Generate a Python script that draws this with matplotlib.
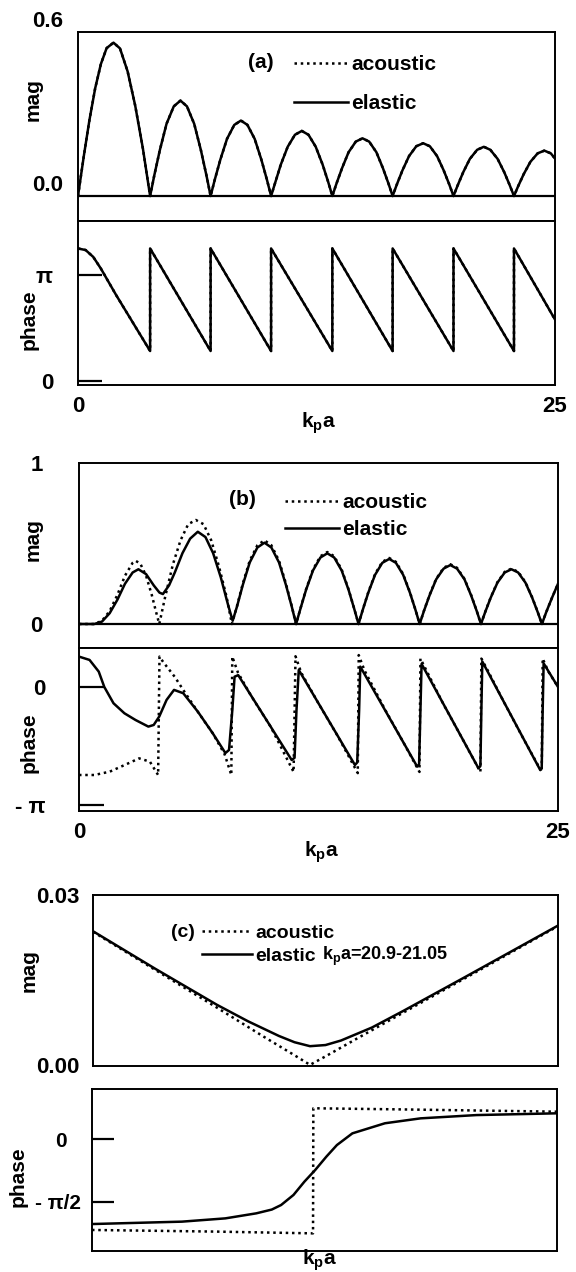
import numpy as np
import matplotlib
matplotlib.use('Agg')
import matplotlib.pyplot as plt
import matplotlib.transforms as mtransforms

plt.rcParams['font.family'] = ['Liberation Sans', 'DejaVu Sans']
plt.rcParams['font.weight'] = 'bold'
plt.rcParams['axes.labelweight'] = 'bold'
plt.rcParams['font.size'] = 15
plt.rcParams['mathtext.fontset'] = 'custom'
plt.rcParams['mathtext.rm'] = 'Liberation Sans:bold'
plt.rcParams['mathtext.bf'] = 'Liberation Sans:bold'
plt.rcParams['mathtext.it'] = 'Liberation Sans:bold'

# ---- panel (a): acoustic and elastic coincide ----
ka_a_mag = [0, 0.3, 0.6, 0.9, 1.2, 1.5, 1.86, 2.2, 2.6, 3.0, 3.4,
            3.78, 4.00, 4.29, 4.64, 5.02, 5.37, 5.71, 6.09, 6.44, 6.73,
            6.95, 7.17, 7.46, 7.81, 8.19, 8.54, 8.88, 9.26, 9.61, 9.90,
            10.12, 10.35, 10.63, 10.99, 11.37, 11.73, 12.08, 12.46, 12.82, 13.11,
            13.33, 13.55, 13.84, 14.18, 14.56, 14.91, 15.26, 15.64, 15.98, 16.27,
            16.49, 16.71, 17.00, 17.35, 17.73, 18.09, 18.44, 18.82, 19.17, 19.46,
            19.68, 19.90, 20.19, 20.54, 20.92, 21.27, 21.61, 21.99, 22.34, 22.63,
            22.85, 23.07, 23.36, 23.71, 24.09, 24.44, 24.78, 25.0]
mag_a_el = [0, 0.144, 0.278, 0.394, 0.483, 0.541, 0.561, 0.54, 0.456, 0.33, 0.174,
            0, 0.076, 0.168, 0.264, 0.328, 0.349, 0.328, 0.264, 0.168, 0.076,
            0, 0.060, 0.133, 0.209, 0.260, 0.276, 0.260, 0.209, 0.133, 0.060,
            0, 0.052, 0.115, 0.180, 0.224, 0.238, 0.224, 0.180, 0.115, 0.052,
            0, 0.046, 0.102, 0.160, 0.199, 0.211, 0.199, 0.160, 0.102, 0.046,
            0, 0.042, 0.093, 0.146, 0.182, 0.193, 0.182, 0.146, 0.093, 0.042,
            0, 0.039, 0.087, 0.136, 0.169, 0.180, 0.169, 0.136, 0.087, 0.039,
            0, 0.036, 0.080, 0.125, 0.156, 0.166, 0.156, 0.137]
mag_a_ac = mag_a_el

# phase in units of pi
ka_a_ph = [0, 0.4, 0.8, 1.2, 1.6, 2.0, 3.78, 3.78, 6.95, 6.95, 10.12, 10.12,
           13.33, 13.33, 16.49, 16.49, 19.68, 19.68, 22.85, 22.85, 25.0]
ph_a_el = [1.25, 1.235, 1.17, 1.06, 0.935, 0.81, 0.283, 1.25, 0.283, 1.25, 0.283, 1.25,
           0.283, 1.25, 0.283, 1.25, 0.283, 1.25, 0.283, 1.25, 0.58]
ph_a_ac = ph_a_el

# ---- panel (b) ----
ka_b_head_el = [0, 0.8, 1.2, 1.6, 2.0, 2.4, 2.8, 3.1, 3.5, 3.9, 4.2, 4.38,
                4.7, 5.0, 5.4, 5.8, 6.2, 6.6, 7.0, 7.4, 7.8, 8.02]
mag_b_head_el = [0, 0.0, 0.015, 0.067, 0.15, 0.25, 0.32, 0.34, 0.31, 0.24, 0.195, 0.186,
                 0.24, 0.32, 0.44, 0.53, 0.573, 0.54, 0.44, 0.29, 0.11, 0.02]
ka_b_head_ac = [0, 0.8, 1.2, 1.6, 2.0, 2.4, 2.8, 2.95, 3.2, 3.5, 3.8, 4.0, 4.19,
                4.5, 4.9, 5.3, 5.7, 6.1, 6.5, 6.9, 7.3, 7.7, 7.98]
mag_b_head_ac = [0, 0.0, 0.02, 0.08, 0.18, 0.30, 0.38, 0.393, 0.375, 0.30, 0.18, 0.085, 0,
                 0.17, 0.37, 0.52, 0.62, 0.646, 0.62, 0.52, 0.36, 0.17, 0]
ka_b_tail = [8.25, 8.55, 8.91, 9.31, 9.68, 10.04, 10.44, 10.80, 11.10, 11.33,
             11.56, 11.85, 12.21, 12.60, 12.96, 13.32, 13.71, 14.07, 14.36, 14.59,
             14.81, 15.10, 15.45, 15.83, 16.19, 16.54, 16.92, 17.27, 17.56, 17.78,
             18.00, 18.29, 18.64, 19.03, 19.38, 19.73, 20.12, 20.47, 20.76, 20.98,
             21.20, 21.49, 21.84, 22.22, 22.57, 22.92, 23.30, 23.65, 23.94, 24.16,
             24.38, 24.67, 25.0]
mag_b_tail_el = [0.11, 0.243, 0.382, 0.475, 0.505, 0.475, 0.382, 0.243, 0.11, 0,
                 0.096, 0.212, 0.332, 0.413, 0.439, 0.413, 0.332, 0.212, 0.096, 0,
                 0.088, 0.195, 0.305, 0.380, 0.404, 0.380, 0.305, 0.195, 0.088, 0,
                 0.080, 0.176, 0.277, 0.344, 0.366, 0.344, 0.277, 0.176, 0.080, 0,
                 0.074, 0.164, 0.257, 0.320, 0.340, 0.320, 0.257, 0.164, 0.074, 0,
                 0.072, 0.158, 0.25]
mag_b_tail_ac = [0.113, 0.251, 0.393, 0.489, 0.52, 0.489, 0.393, 0.251, 0.113, 0,
                 0.097, 0.215, 0.338, 0.421, 0.447, 0.421, 0.338, 0.215, 0.097, 0,
                 0.089, 0.198, 0.310, 0.386, 0.41, 0.386, 0.310, 0.198, 0.089, 0,
                 0.081, 0.179, 0.280, 0.349, 0.371, 0.349, 0.280, 0.179, 0.081, 0,
                 0.075, 0.166, 0.260, 0.324, 0.344, 0.324, 0.260, 0.166, 0.075, 0,
                 0.072, 0.158, 0.25]

ka_b_ph_el = [0, 0.55, 1.03, 1.32, 1.8, 2.37, 2.95, 3.62, 3.9, 4.19, 4.57, 4.96, 5.44,
              6.2, 6.97, 7.64, 7.83, 8.0, 8.12, 8.31, 11.1, 11.25, 11.35, 11.47,
              14.4, 14.52, 14.62, 14.68, 17.65, 17.75, 17.82, 17.88,
              20.85, 20.95, 21.0, 21.05, 24.07, 24.15, 24.2, 24.25, 25.0]
ph_b_el = [0.257, 0.229, 0.13, 0.0, -0.138, -0.223, -0.28, -0.336, -0.322, -0.25, -0.11, -0.025, -0.053,
           -0.209, -0.39, -0.56, -0.534, -0.2, 0.087, 0.10, -0.619, -0.6, -0.2, 0.144,
           -0.661, -0.64, -0.2, 0.172, -0.675, -0.655, -0.2, 0.195,
           -0.689, -0.67, -0.2, 0.215, -0.703, -0.685, -0.2, 0.2, 0.0]
ka_b_ph_ac = [0, 0.8, 1.6, 2.4, 3.14, 3.7, 4.13, 4.2, 4.4, 5.0, 5.5, 6.2, 6.97, 7.6, 7.95,
              8.0, 8.3, 9.0, 10.0, 11.2, 11.3, 11.6, 12.5, 13.5, 14.55, 14.6, 14.9, 16.0,
              17.0, 17.77, 17.82, 18.1, 19.0, 20.0, 20.95, 21.0, 21.3, 22.2, 23.2, 24.15,
              24.2, 24.5, 25.0]
ph_b_ac = [-0.746, -0.746, -0.718, -0.66, -0.605, -0.633, -0.746, 0.257, 0.21, 0.085, -0.04,
           -0.21, -0.39, -0.57, -0.746, 0.257, 0.12, -0.08, -0.336, -0.72, 0.26, 0.12, -0.14,
           -0.415, -0.73, 0.27, 0.14, -0.2, -0.49, -0.72, 0.24, 0.15, -0.14, -0.436, -0.72,
           0.24, 0.15, -0.135, -0.44, -0.72, 0.24, 0.13, 0.0]

# ---- panel (c): zoom on kpa = 20.9 - 21.05 ----
ka_c_mag_el = [20.9, 20.92, 20.94, 20.95, 20.96, 20.965, 20.97, 20.975, 20.98, 20.99, 21.0, 21.02, 21.05]
mag_c_el = [0.0236, 0.0170, 0.0106, 0.0077, 0.0051, 0.0040, 0.0033, 0.0035, 0.0043, 0.0066, 0.0095, 0.0155, 0.0246]
ka_c_mag_ac = [20.9, 20.92, 20.94, 20.955, 20.965, 20.97, 20.975, 20.985, 21.0, 21.02, 21.05]
mag_c_ac = [0.0235, 0.0168, 0.0101, 0.005, 0.0017, 0.0, 0.0015, 0.0046, 0.0092, 0.0153, 0.0245]

ka_c_ph_el = [20.9, 20.929, 20.943, 20.953, 20.958, 20.961, 20.965, 20.9685, 20.972, 20.9756,
              20.979, 20.984, 20.9945, 21.006, 21.024, 21.05]
ph_c_el = [-0.675, -0.656, -0.63, -0.59, -0.56, -0.524, -0.444, -0.339, -0.246, -0.14,
           -0.048, 0.045, 0.125, 0.164, 0.19, 0.204]
ka_c_ph_ac = [20.9, 20.94, 20.9713, 20.9714, 21.0, 21.05]
ph_c_ac = [-0.722, -0.735, -0.749, 0.244, 0.235, 0.217]

W, H = 576, 1272
fig = plt.figure(figsize=(W / 100, H / 100), dpi=100)


def box(l, t, r, b):
    ax = fig.add_axes([l / W, 1 - b / H, (r - l) / W, (b - t) / H])
    for s in ax.spines.values():
        s.set_linewidth(1.4)
    return ax


LW = 1.8
DOT = (0, (1, 1.5))


def curves(ax, xe, ye, xa, ya, scale=1.0):
    la, = ax.plot(xa, np.array(ya) * scale, color='k', lw=LW, ls=DOT)
    le, = ax.plot(xe, np.array(ye) * scale, color='k', lw=LW)
    return la, le


def legend(ax, la, le, x, y, spacing, tag, tx, ty, fs=15):
    ax.legend([la, le], ['acoustic', 'elastic'], loc='upper left', bbox_to_anchor=(x, y),
              frameon=False, handlelength=2.6, handletextpad=0.15, labelspacing=spacing,
              borderpad=0, borderaxespad=0, fontsize=fs)
    ax.text(tx, ty, tag, transform=ax.transAxes, ha='center', va='center', fontsize=fs)


def ylab(ax, text, x, y):
    ax.set_ylabel(text)
    ax.yaxis.set_label_coords(x, y)
    ax.yaxis.label.set_va('center')


def xlab(ax, text, x, y):
    ax.set_xlabel(text)
    ax.xaxis.set_label_coords(x, y)
    ax.xaxis.label.set_va('center')


# (a) magnitude
ax = box(78, 32, 555, 221)
la, le = curves(ax, ka_a_mag, mag_a_el, ka_a_mag, mag_a_ac)
ax.axhline(0, color='k', lw=1.6)
ax.set_xlim(0, 25)
ax.set_ylim(-0.0915, 0.6)
ax.set_xticks([])
ax.set_yticks([0, 0.6], ['0.0', '0.6'])
ax.tick_params(axis='y', length=0, pad=11, labelsize=16)
for t in ax.get_yticklabels():
    t.set_va('bottom')
ylab(ax, 'mag', -0.094, 0.64)
legend(ax, la, le, 0.453, 0.878, 0.95, '(a)', 0.384, 0.836)

# (a) phase
ax = box(78, 221, 555, 385)
curves(ax, ka_a_ph, ph_a_el, ka_a_ph, ph_a_ac, np.pi)
ax.set_xlim(0, 25)
ax.set_ylim(-0.0377 * np.pi, 1.509 * np.pi)
ax.set_xticks([0, 25], ['0', '25'])
ax.tick_params(axis='x', length=0, pad=8, labelsize=16)
ax.set_yticks([0, np.pi], ['0', 'π'])
ax.tick_params(axis='y', direction='in', length=17, width=1.6, pad=18, labelsize=16)
ylab(ax, 'phase', -0.103, 0.396)
xlab(ax, r'$\mathbf{k_p a}$', 0.505, -0.232)

# (b) magnitude
ax = box(79, 463, 558, 648)
la, le = curves(ax, ka_b_head_el + ka_b_tail, mag_b_head_el + mag_b_tail_el,
                ka_b_head_ac + ka_b_tail, mag_b_head_ac + mag_b_tail_ac)
ax.axhline(0, color='k', lw=1.6)
ax.set_xlim(0, 25)
ax.set_ylim(-0.149, 1.0)
ax.set_xticks([])
ax.set_yticks([0, 1], ['0', '1'])
ax.tick_params(axis='y', length=0, pad=26, labelsize=16)
ylab(ax, 'mag', -0.096, 0.584)
legend(ax, la, le, 0.43, 0.838, 0.4, '(b)', 0.342, 0.80)

# (b) phase
ax = box(79, 648, 558, 811)
curves(ax, ka_b_ph_el, ph_b_el, ka_b_ph_ac, ph_b_ac, np.pi)
ax.set_xlim(0, 25)
ax.set_ylim(-1.051 * np.pi, 0.33 * np.pi)
ax.set_xticks([0, 25], ['0', '25'])
ax.tick_params(axis='x', length=0, pad=8, labelsize=16)
ax.set_yticks([-np.pi, 0], ['- π', '0'])
ax.tick_params(axis='y', direction='in', length=18, width=1.6, pad=24, labelsize=16)
ylab(ax, 'phase', -0.104, 0.417)
xlab(ax, r'$\mathbf{k_p a}$', 0.507, -0.252)

# (c) magnitude
ax = box(93, 895, 558, 1066)
la, le = curves(ax, ka_c_mag_el, mag_c_el, ka_c_mag_ac, mag_c_ac)
ax.set_xlim(20.9, 21.05)
ax.set_ylim(-0.0002, 0.03)
ax.set_xticks([])
ax.set_yticks([0, 0.03], ['0.00', '0.03'])
ax.tick_params(axis='y', length=0, pad=10, labelsize=16)
ylab(ax, 'mag', -0.138, 0.561)
legend(ax, la, le, 0.234, 0.83, 0.3, '(c)', 0.194, 0.778, fs=14)
ax.text(0.492, 0.643, r'$\mathbf{k_p a}$=20.9-21.05', transform=ax.transAxes,
        ha='left', va='center', fontsize=13)

# (c) phase
ax = box(92, 1089, 557, 1251)
curves(ax, ka_c_ph_el, ph_c_el, ka_c_ph_ac, ph_c_ac, np.pi)
ax.set_xlim(20.9, 21.05)
ax.set_ylim(-0.889 * np.pi, 0.397 * np.pi)
ax.set_xticks([])
ax.set_yticks([-np.pi / 2, 0], ['- π/2', '0'])
ax.tick_params(axis='y', direction='in', length=16, width=1.6, pad=8, labelsize=15)
# the "0" label sits further left than "- π/2" in the original
zero_lbl = ax.get_yticklabels()[1]
zero_lbl.set_transform(zero_lbl.get_transform() +
                       mtransforms.ScaledTranslation(-10 / 72, 0, fig.dpi_scale_trans))
ylab(ax, 'phase', -0.16, 0.457)
xlab(ax, r'$\mathbf{k_p a}$', 0.49, -0.06)

fig.savefig('out.png', dpi=100)
